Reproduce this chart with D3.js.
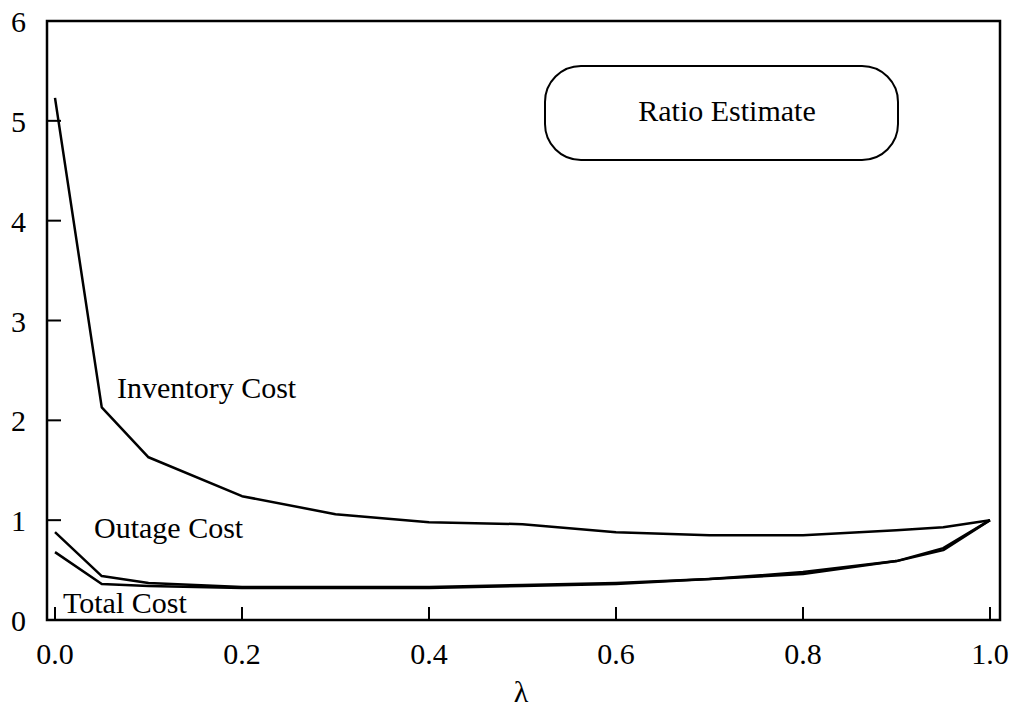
<!DOCTYPE html>
<html>
<head>
<meta charset="utf-8">
<script src="https://cdn.jsdelivr.net/npm/d3@7"></script>
<style>
  body { margin: 0; background: #fff; }
  text { font-family: "Liberation Serif", "Times New Roman", serif; fill: #000; }
</style>
</head>
<body>
<div id="chart"></div>
<script>
// lambda values along the x axis
var lambdas = [0, 0.05, 0.1, 0.2, 0.3, 0.4, 0.5, 0.6, 0.7, 0.8, 0.9, 0.95, 1.0];
// cost ratios
var inventoryCost = [5.23, 2.13, 1.63, 1.24, 1.06, 0.98, 0.96, 0.88, 0.85, 0.85, 0.90, 0.93, 1.0];
var outageCost    = [0.88, 0.44, 0.37, 0.33, 0.33, 0.33, 0.35, 0.37, 0.41, 0.48, 0.59, 0.72, 1.0];
var totalCost     = [0.68, 0.36, 0.34, 0.32, 0.32, 0.32, 0.34, 0.36, 0.41, 0.46, 0.59, 0.70, 1.0];
var xTicks = [0, 0.2, 0.4, 0.6, 0.8, 1.0];
var yTicks = [0, 1, 2, 3, 4, 5, 6];
var boxLabel = "Ratio Estimate";

var width = 1013, height = 713;
var fs = 30;

var svg = d3.select("#chart")
    .append("svg")
    .attr("width", width)
    .attr("height", height);

// scales
var x = d3.scaleLinear().domain([0, 1]).range([55, 990]);
var y = d3.scaleLinear().domain([0, 6]).range([620, 21]);

// frame
svg.append("rect")
    .attr("x", 47).attr("y", y(6))
    .attr("width", 1000 - 47).attr("height", y(0) - y(6))
    .attr("fill", "none")
    .attr("stroke", "#000")
    .attr("stroke-width", 2.5);

// x ticks (inward) and labels
svg.selectAll(".xtick")
    .data(xTicks)
    .enter()
    .append("line")
    .attr("x1", d => x(d)).attr("x2", d => x(d))
    .attr("y1", 620).attr("y2", 607)
    .attr("stroke", "#000").attr("stroke-width", 2);

svg.selectAll(".xlab")
    .data(xTicks)
    .enter()
    .append("text")
    .attr("x", d => x(d))
    .attr("y", 664)
    .attr("text-anchor", "middle")
    .attr("font-size", fs)
    .text(d => d3.format(".1f")(d));

// y ticks and labels
svg.selectAll(".ytick")
    .data(yTicks)
    .enter()
    .append("line")
    .attr("x1", 47).attr("x2", 61)
    .attr("y1", d => y(d)).attr("y2", d => y(d))
    .attr("stroke", "#000").attr("stroke-width", 2);

svg.selectAll(".ylab")
    .data(yTicks)
    .enter()
    .append("text")
    .attr("x", 26)
    .attr("y", d => y(d) + 11)
    .attr("text-anchor", "end")
    .attr("font-size", fs)
    .text(d => d);

// axis title
svg.append("text")
    .attr("x", 521).attr("y", 702)
    .attr("text-anchor", "middle")
    .attr("font-size", fs)
    .text("λ");

// lines
var line = d3.line()
    .x((d, i) => x(lambdas[i]))
    .y(d => y(d));

[inventoryCost, outageCost, totalCost].forEach(function(s) {
  svg.append("path")
      .attr("d", line(s))
      .attr("fill", "none")
      .attr("stroke", "#000")
      .attr("stroke-width", 2.5)
      .attr("stroke-linejoin", "round");
});

// series labels
svg.append("text").attr("x", 117).attr("y", 398).attr("font-size", fs).text("Inventory Cost");
svg.append("text").attr("x", 94).attr("y", 538).attr("font-size", fs).text("Outage Cost");
svg.append("text").attr("x", 63).attr("y", 613).attr("font-size", fs).text("Total Cost");

// rounded box
svg.append("rect")
    .attr("x", 545).attr("y", 66)
    .attr("width", 353).attr("height", 94)
    .attr("rx", 36).attr("ry", 36)
    .attr("fill", "none")
    .attr("stroke", "#000")
    .attr("stroke-width", 2);

svg.append("text")
    .attr("x", 727).attr("y", 121)
    .attr("text-anchor", "middle")
    .attr("font-size", fs)
    .text(boxLabel);
</script>
</body>
</html>
